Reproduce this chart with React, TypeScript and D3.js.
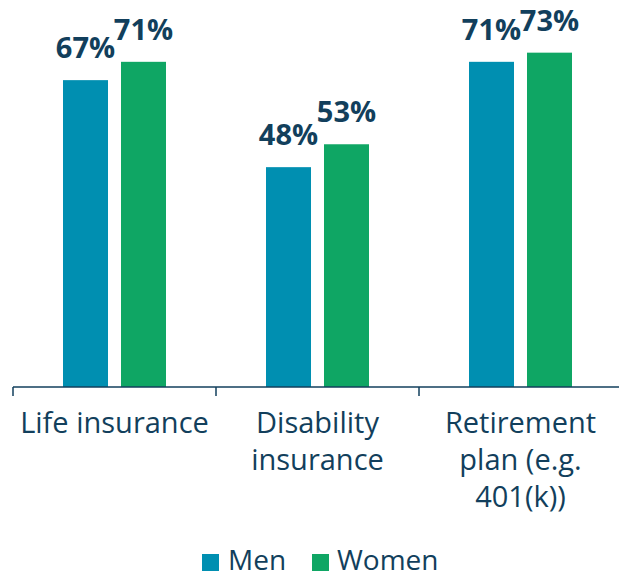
import React from "react";
import * as d3 from "d3";

const categories = ["Life insurance", "Disability insurance", "Retirement plan (e.g. 401(k))"];
const categoryLines = [["Life insurance"], ["Disability", "insurance"], ["Retirement", "plan (e.g.", "401(k))"]];
const series = ["Men", "Women"];
const men = [67, 48, 71];
const women = [71, 53, 73];

const colors = { Men: "#008FB1", Women: "#0FA664" };
const textColor = "#123F5C";
const font = "'Open Sans', sans-serif";

const width = 619;
const height = 574;
const baseline = 387;

const App = () => {
  const x = d3.scaleBand().domain(categories).range([13, 622]).padding(0);
  const xs = d3.scaleBand().domain(series).range([50, 153]).paddingInner(0.224).paddingOuter(0);
  const y = d3.scaleLinear().domain([0, 100]).range([baseline, baseline - 458]);

  const values = { Men: men, Women: women };
  const legend = [
    { name: "Men", sq: 202, tx: 228 },
    { name: "Women", sq: 312, tx: 337 },
  ];

  return (
    <div style={{ position: "absolute", left: 0, top: 0 }}>
      <svg width={width} height={height} style={{ display: "block" }}>
        {categories.map((c, i) => (
          <g key={c} transform={`translate(${x(c)},0)`}>
            {series.map((s) => {
              const v = values[s][i];
              const bx = xs(s)!;
              return (
                <g key={s}>
                  <rect x={bx} y={y(v)} width={xs.bandwidth()} height={baseline - y(v)} fill={colors[s]} />
                  <text
                    x={bx + xs.bandwidth() / 2}
                    y={y(v) - 22}
                    textAnchor="middle"
                    fontFamily={font}
                    fontWeight={700}
                    fontSize={29}
                    fill={textColor}
                  >
                    {v}%
                  </text>
                </g>
              );
            })}
            {categoryLines[i].map((line, j) => (
              <text
                key={j}
                x={x.bandwidth() / 2}
                y={433 + j * 37}
                textAnchor="middle"
                fontFamily={font}
                fontSize={29}
                fill={textColor}
              >
                {line}
              </text>
            ))}
          </g>
        ))}
        <line x1={13} x2={width} y1={baseline} y2={baseline} stroke={textColor} strokeWidth={1.5} />
        {categories.map((c) => (
          <line key={c} x1={x(c)!} x2={x(c)!} y1={baseline} y2={baseline + 9} stroke={textColor} strokeWidth={1.5} />
        ))}
        {legend.map((l) => (
          <g key={l.name}>
            <rect x={l.sq} y={554} width={17} height={17} fill={colors[l.name]} />
            <text x={l.tx} y={570} fontFamily={font} fontSize={28} fill={textColor}>
              {l.name}
            </text>
          </g>
        ))}
      </svg>
    </div>
  );
};

export default App;
